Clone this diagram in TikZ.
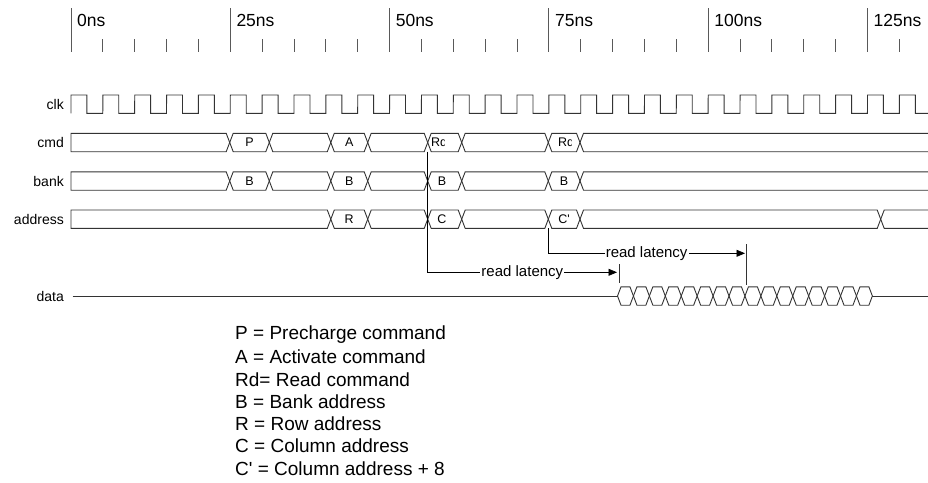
\documentclass[tikz,border=0pt]{standalone}
\usepackage{fontspec}
\setmainfont{Liberation Sans}
\usetikzlibrary{arrows.meta, positioning}

% one bus cell: left x, right x, centre y
\newcommand{\buscell}[3]{%
  \draw[wave] (#1,#3) -- ({#1+3.5},{#3-9.2}) -- ({#2-3.5},{#3-9.2}) -- (#2,#3)
    -- ({#2-3.5},{#3+9.2}) -- ({#1+3.5},{#3+9.2}) -- cycle;}
% first cell of a bus, closed at the left
\newcommand{\busstart}[2]{%
  \draw[wave] (71,{#2-9.2}) -- ({#1-3.5},{#2-9.2}) -- (#1,#2)
    -- ({#1-3.5},{#2+9.2}) -- (71,{#2+9.2}) -- cycle;}
% last cell of a bus, open at the right
\newcommand{\busend}[2]{%
  \draw[wave] (928,{#2-9.2}) -- ({#1+3.5},{#2-9.2}) -- (#1,#2)
    -- ({#1+3.5},{#2+9.2}) -- (928,{#2+9.2});}

\begin{document}
\begin{tikzpicture}[
        x=1pt, y=-1pt,
        wave/.style={draw=black!80, line width=0.9pt},
        tick/.style={draw=black!65, line width=0.9pt},
        timelbl/.style={anchor=west, inner sep=0pt, font=\fontsize{17.5}{20}\selectfont},
        siglbl/.style={anchor=east, inner sep=0pt, font=\fontsize{14}{16}\selectfont},
        buslbl/.style={inner sep=0pt, font=\fontsize{12.5}{15}\selectfont},
        latlbl/.style={fill=white, inner sep=1pt, font=\fontsize{15}{17}\selectfont},
        leglbl/.style={anchor=west, inner sep=0pt, font=\fontsize{19}{22}\selectfont},
        lat/.style={draw=black, line width=0.8pt, -{Triangle[length=8.5pt, width=7pt]}}
    ]
        \useasboundingbox (0,0) rectangle (928,482);

        % Time axis
        \foreach \k/\lab in {0/0ns, 1/25ns, 2/50ns, 3/75ns, 4/100ns, 5/125ns} {
            \draw[tick] ({71+159.3*\k},8) -- ({71+159.3*\k},52);
            \node[timelbl] (t\k) at ({77+159.3*\k},20.5) {\lab};
        }
        \foreach \j in {1,...,26} {
            \pgfmathtruncatemacro{\r}{mod(\j,5)}
            \ifnum\r>0 \draw[tick] ({71+31.86*\j},39) -- ({71+31.86*\j},52); \fi
        }

        % Signal names
        \node[siglbl] (clk) at (64,104) {clk};
        \node[siglbl] (cmd) at (64,142.5) {cmd};
        \node[siglbl] (bank) at (64,181) {bank};
        \node[siglbl] (address) at (64,219.2) {address};
        \node[siglbl] (data) at (64,296) {data};

        % clk
        \draw[wave] (71,113.3) \foreach \i in {0,...,25} {
                -- ({71+31.86*\i},95) -- ({86.93+31.86*\i},95)
                -- ({86.93+31.86*\i},113.3) -- ({102.79+31.86*\i},113.3)}
            -- (899.4,95) -- (915.3,95) -- (915.3,113.3) -- (928,113.3);

        % cmd
        \busstart{229.7}{142.5}
        \buscell{229.7}{269.3}{142.5}
        \buscell{269.3}{330.8}{142.5}
        \buscell{330.8}{367.7}{142.5}
        \buscell{367.7}{427.7}{142.5}
        \buscell{427.7}{461.7}{142.5}
        \buscell{461.7}{548.3}{142.5}
        \buscell{548.3}{580}{142.5}
        \busend{580}{142.5}
        \node[buslbl] (cmdP) at (249.5,142.5) {P};
        \node[buslbl] (cmdA) at (349.2,142.5) {A};
        \begin{scope}
            \clip (429,133) rectangle (444.5,152);
            \node[buslbl, anchor=west] (cmdRd1) at (431,142.5) {Rd};
        \end{scope}
        \begin{scope}
            \clip (550,133) rectangle (571.5,152);
            \node[buslbl, anchor=west] (cmdRd2) at (558,142.5) {Rd};
        \end{scope}

        % bank
        \busstart{229.7}{181}
        \buscell{229.7}{269.3}{181}
        \buscell{269.3}{330.8}{181}
        \buscell{330.8}{367.7}{181}
        \buscell{367.7}{427.7}{181}
        \buscell{427.7}{461.7}{181}
        \buscell{461.7}{548.3}{181}
        \buscell{548.3}{580}{181}
        \busend{580}{181}
        \node[buslbl] (bankB1) at (249.5,181) {B};
        \node[buslbl] (bankB2) at (349.2,181) {B};
        \node[buslbl] (bankB3) at (442,181) {B};
        \node[buslbl] (bankB4) at (564,181) {B};

        % address
        \busstart{330.8}{219.2}
        \buscell{330.8}{367.7}{219.2}
        \buscell{367.7}{427.7}{219.2}
        \buscell{427.7}{461.7}{219.2}
        \buscell{461.7}{548.3}{219.2}
        \buscell{548.3}{580}{219.2}
        \buscell{580}{880.7}{219.2}
        \busend{880.7}{219.2}
        \node[buslbl] (addrR) at (349.2,219.2) {R};
        \node[buslbl] (addrC) at (442,219.2) {C};
        \node[buslbl] (addrCp) at (564,219.2) {C\textquotesingle};

        % data
        \draw[wave] (72.7,296) -- (617.5,296);
        \foreach \i in {0,...,15} {
            \buscell{617.5+15.93*\i}{633.43+15.93*\i}{296}
        }
        \draw[wave] (872.4,296) -- (928,296);

        % Read latency
        \coordinate (rd1) at (427.7,151.7);
        \coordinate (burst1) at (617,272.3);
        \coordinate (rd2) at (548.3,228.3);
        \coordinate (burst2) at (745,253.3);
        \draw[lat] (rd1) |- node[latlbl, pos=0.75] {read latency} (burst1);
        \draw[lat] (rd2) |- node[latlbl, pos=0.75] {read latency} (burst2);
        \draw[wave] (619,264) -- (619,283.3);
        \draw[wave] (746,244.3) -- (746,285);

        % Legend
        \foreach \t [count=\i] in {P = Precharge command, A = Activate command,
                Rd= Read command, B = Bank address, R = Row address,
                C = Column address, C\textquotesingle{} = Column address + 8} {
            \node[leglbl] (leg\i) at (235,{335+22.2*(\i-1)}) {\t};
        }
\end{tikzpicture}
\end{document}
